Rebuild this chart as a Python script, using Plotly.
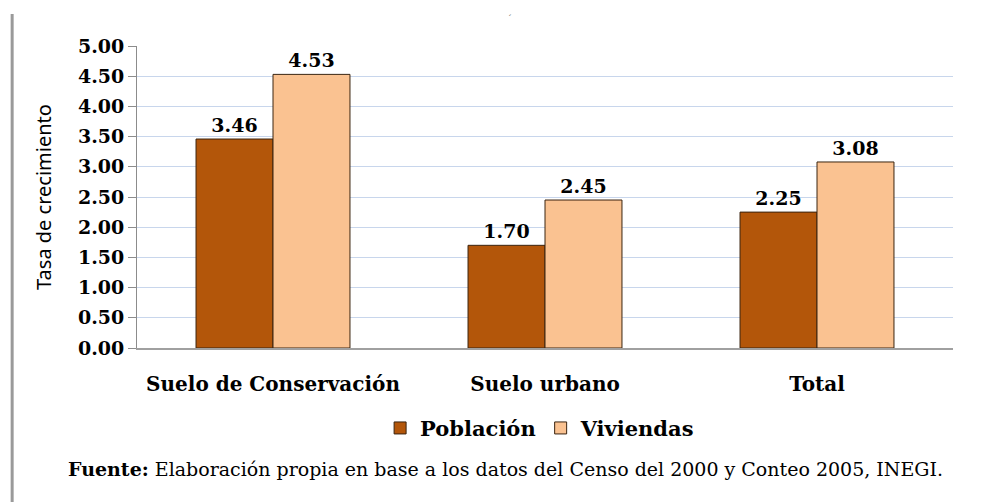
import plotly.graph_objects as go

# categories and series values
categorias = ["Suelo de Conservación", "Suelo urbano", "Total"]
poblacion = [3.46, 1.70, 2.25]
viviendas = [4.53, 2.45, 3.08]

serif = "DejaVu Serif, Liberation Serif, serif"

fig = go.Figure()
fig.add_trace(go.Bar(
    x=categorias, y=poblacion, name="Población",
    marker=dict(color="#B3560A", line=dict(color="#3A2410", width=1)),
    texttemplate="%{y:.2f}", textposition="outside", cliponaxis=False,
    textfont=dict(family=serif, size=19, color="black", weight="bold"),
))
fig.add_trace(go.Bar(
    x=categorias, y=viviendas, name="Viviendas",
    marker=dict(color="#FAC291", line=dict(color="#3A2410", width=1)),
    texttemplate="%{y:.2f}", textposition="outside", cliponaxis=False,
    textfont=dict(family=serif, size=19, color="black", weight="bold"),
))

# page body adds 8px offset, so margins are shifted accordingly
fig.update_layout(
    width=1004, height=502,
    margin=dict(l=129, r=59, t=38, b=162),
    paper_bgcolor="white", plot_bgcolor="white",
    barmode="group", bargap=0.434, bargroupgap=0,
    font=dict(family=serif, color="black"),
    showlegend=True,
    legend=dict(
        orientation="h", x=0.494, xanchor="center", y=-0.198, yanchor="top",
        font=dict(family=serif, size=21, color="black", weight="bold"),
        itemwidth=30,
    ),
)

fig.update_yaxes(
    range=[0, 5], dtick=0.5, tickformat=".2f",
    ticks="outside", ticklen=8, tickcolor="#8C8C8C",
    showline=True, linecolor="#8C8C8C", linewidth=1,
    showgrid=True, gridcolor="#C8D6EC", gridwidth=1,
    zeroline=False,
    tickfont=dict(family=serif, size=19, color="black", weight="bold"),
    title=dict(text="Tasa de crecimiento", standoff=20,
               font=dict(family="Noto Sans, sans-serif", size=20, color="black")),
)
fig.update_xaxes(
    showline=True, linecolor="#A0A0A0", linewidth=2,
    ticks="", ticklabelstandoff=17,
    tickfont=dict(family=serif, size=20, color="black", weight="bold"),
)

# thin gray rule on the left of the page
fig.add_shape(type="line", xref="paper", yref="paper",
              x0=-0.153, x1=-0.153, y0=1.106, y1=-0.51,
              line=dict(color="#9A9A9A", width=3))

# stray accent mark above the chart
fig.add_annotation(xref="paper", yref="paper", x=0.457, y=1.115, showarrow=False,
                   text="´", font=dict(family=serif, size=10, color="#666666"))

fig.add_annotation(
    xref="paper", yref="paper", x=0.452, y=-0.40, xanchor="center", yanchor="middle",
    showarrow=False,
    text="<b>Fuente:</b> Elaboración propia en base a los datos del Censo del 2000 y Conteo 2005, INEGI.",
    font=dict(family=serif, size=19, color="black"),
)

fig.write_html("out.html")
